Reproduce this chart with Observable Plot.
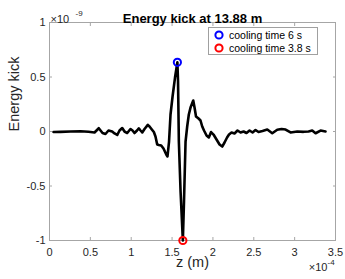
<!DOCTYPE html>
<html><head><meta charset="utf-8">
<script src="https://cdn.jsdelivr.net/npm/d3@7"></script>
<script src="https://cdn.jsdelivr.net/npm/@observablehq/plot@0.6"></script>
<style>
body{margin:0;background:#fff;}
#wrap{position:relative;width:345px;height:279px;font-family:"Liberation Sans",Arial,Helvetica,sans-serif;}
#legend{position:absolute;left:208px;top:27px;width:110px;height:28px;border:1px solid #a0a0a0;background:#fff;box-sizing:border-box;font-size:10.5px;color:#000;padding-top:1px}
#legend .row{display:flex;align-items:center;height:12.5px;white-space:nowrap}
#legend svg{margin-left:5px;margin-right:5px}
</style>
</head><body>
<div id="wrap"></div>
<script>
const titleText = "Energy kick at 13.88 m";
const xLabel = "z (m)";
const yLabel = "Energy kick";
const xTicks = [0, 0.5, 1, 1.5, 2, 2.5, 3, 3.5];
const yTicks = [-1, -0.5, 0, 0.5, 1];
const xExponent = "-4";
const yExponent = "-9";
// z in units of 1e-4 m, kick in units of 1e-9
const zValues = [0.049,0.135,0.257,0.379,0.477,0.551,0.603,0.649,0.685,0.722,
0.767,0.796,0.829,0.857,0.890,0.918,0.951,0.991,1.016,1.040,
1.071,1.093,1.114,1.135,1.163,1.203,1.224,1.257,1.277,1.297,
1.318,1.338,1.367,1.395,1.432,1.444,1.463,1.481,1.506,1.536,
1.565,1.573,1.583,1.604,1.632,1.646,1.665,1.685,1.705,1.726,
1.759,1.775,1.793,1.824,1.848,1.869,1.891,1.922,1.950,1.977,
2.007,2.044,2.081,2.114,2.142,2.173,2.197,2.228,2.264,2.301,
2.338,2.375,2.411,2.448,2.485,2.521,2.558,2.607,2.665,2.726,
2.787,2.840,2.889,2.950,3.032,3.109,3.170,3.215,3.256,3.317,3.378];
const kickValues = [-0.005,-0.003,0,0.002,-0.003,-0.009,0.030,-0.014,-0.023,0.009,
0,-0.018,-0.032,0.009,0.032,0,-0.014,0.023,0.009,-0.014,
0.009,0.028,0.009,-0.009,0.023,0.061,0.046,0.014,-0.005,-0.046,
-0.119,-0.124,-0.128,-0.156,-0.216,-0.229,-0.092,0.156,0.321,0.495,
0.635,0.459,-0.092,-0.550,-1.0,-0.642,-0.092,0.046,0.156,0.220,
0.284,0.220,0.138,0.119,0.101,0.046,0.009,-0.037,-0.055,-0.005,
-0.028,-0.073,-0.119,-0.138,-0.101,-0.055,-0.028,-0.009,-0.018,0.009,
-0.009,0,-0.014,0.009,-0.009,0.014,-0.005,0.005,0.018,-0.016,
0.016,0.023,0.018,-0.009,0,-0.003,0,0.009,-0.016,0.009,0];
const markerNames = ["cooling time 6 s", "cooling time 3.8 s"];
const markerZ = [1.565, 1.632];
const markerKick = [0.635, -1.0];
const markerColors = ["#0000ff", "#ff0000"];

const curve = zValues.map((z, i) => ({z, kick: kickValues[i]}));
const markers = markerNames.map((name, i) => ({name, z: markerZ[i], kick: markerKick[i], color: markerColors[i]}));

const font = '"Liberation Sans", Arial, Helvetica, sans-serif';
const boxColor = "#a6a6a6";
const textColor = "#262626";

const chart = Plot.plot({
  width: 345, height: 279,
  marginLeft: 49, marginRight: 10, marginTop: 22, marginBottom: 39,
  style: {fontFamily: font, fontSize: "11px", background: "#fff", color: textColor},
  x: {domain: [0, 3.5]},
  y: {domain: [-1, 1]},
  marks: [
    Plot.frame({stroke: boxColor}),
    Plot.axisX(xTicks, {anchor: "bottom", tickSize: -3, tickPadding: 11, stroke: boxColor, fill: textColor, fontSize: 11, label: null, tickFormat: d => String(d)}),
    Plot.axisX(xTicks, {anchor: "top", tickSize: -3, stroke: boxColor, label: null, tickFormat: () => ""}),
    Plot.axisY(yTicks, {anchor: "left", tickSize: -3, tickPadding: 7, stroke: boxColor, fill: textColor, fontSize: 11, label: null, tickFormat: d => String(d)}),
    Plot.axisY(yTicks, {anchor: "right", tickSize: -3, stroke: boxColor, label: null, tickFormat: () => ""}),
    Plot.line(curve, {x: "z", y: "kick", stroke: "#000", strokeWidth: 2.6, strokeLinejoin: "round", strokeLinecap: "round"}),
    Plot.dot(markers, {x: "z", y: "kick", r: 3.6, stroke: "color", strokeWidth: 2, fill: "none"}),
    Plot.text([titleText], {text: d => d, frameAnchor: "top", dy: -9, fontWeight: "bold", fontSize: 13, fill: "#000"}),
    Plot.text([yLabel], {text: d => d, frameAnchor: "left", dx: -35, rotate: -90, fontSize: 14.5, fill: textColor}),
    Plot.text([xLabel], {text: d => d, frameAnchor: "bottom", dy: 26, fontSize: 14.5, fill: textColor}),
    Plot.text(["×10"], {text: d => d, frameAnchor: "top-left", textAnchor: "start", dx: 1, dy: -7, fontSize: 11, fill: textColor}),
    Plot.text([yExponent], {text: d => d, frameAnchor: "top-left", textAnchor: "start", dx: 26, dy: -12, fontSize: 8, fill: textColor}),
    Plot.text(["×10"], {text: d => d, frameAnchor: "bottom-right", textAnchor: "end", dx: -8, dy: 30, fontSize: 11, fill: textColor}),
    Plot.text([xExponent], {text: d => d, frameAnchor: "bottom-right", textAnchor: "start", dx: -8, dy: 24, fontSize: 8, fill: textColor})
  ]
});
const wrap = document.getElementById("wrap");
wrap.appendChild(chart);
const legend = document.createElement("div");
legend.id = "legend";
markers.forEach(m => {
  const row = document.createElement("div");
  row.className = "row";
  row.innerHTML = `<svg width="10" height="10"><circle cx="5" cy="5" r="3.6" fill="none" stroke="${m.color}" stroke-width="2"/></svg><span>${m.name}</span>`;
  legend.appendChild(row);
});
wrap.appendChild(legend);
</script>
</body></html>
